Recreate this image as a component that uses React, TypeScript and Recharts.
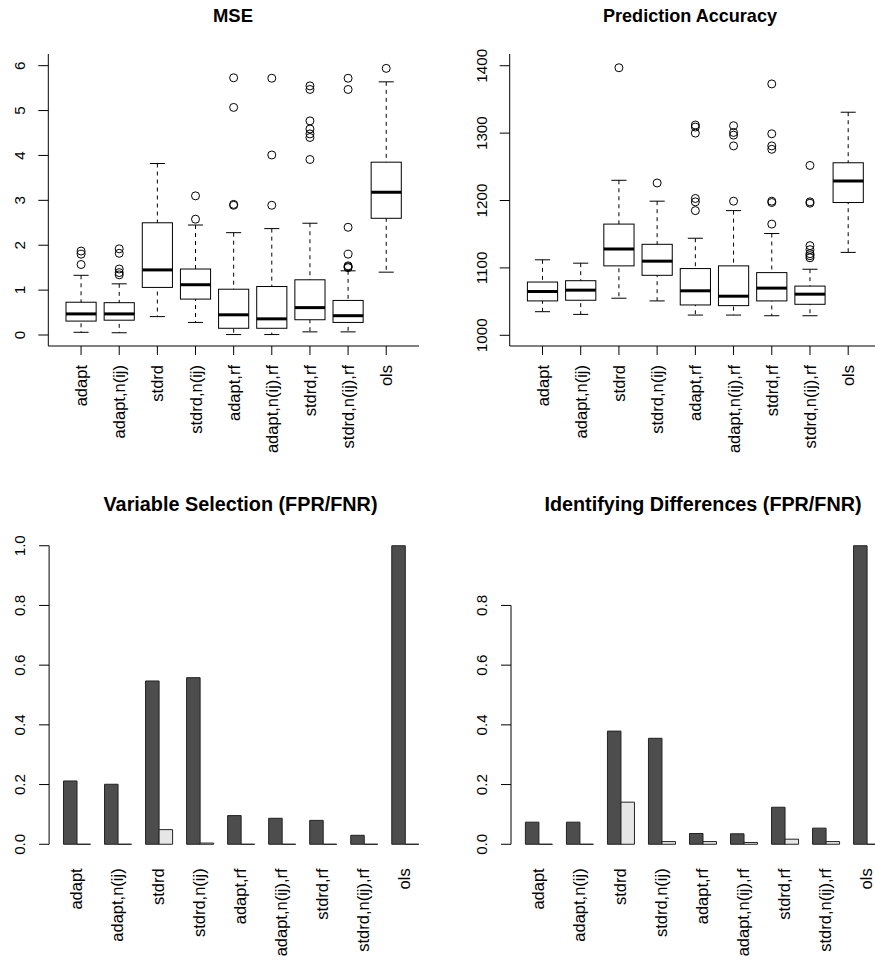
import React from 'react';
import { ComposedChart, Bar, Scatter, XAxis, YAxis, ReferenceLine } from 'recharts';

const FONT = '"Liberation Sans", Arial, Helvetica, sans-serif';

// ---------- data ----------
const categories = ['adapt', 'adapt,n(ij)', 'stdrd', 'stdrd,n(ij)', 'adapt,rf', 'adapt,n(ij),rf', 'stdrd,rf', 'stdrd,n(ij),rf', 'ols'];

// MSE boxplot stats
const mseLower = [0.06, 0.05, 0.41, 0.28, 0.01, 0.01, 0.07, 0.07, 1.40];
const mseQ1 = [0.31, 0.33, 1.06, 0.80, 0.15, 0.15, 0.34, 0.28, 2.60];
const mseMedian = [0.47, 0.47, 1.45, 1.12, 0.45, 0.36, 0.61, 0.43, 3.18];
const mseQ3 = [0.73, 0.72, 2.50, 1.47, 1.02, 1.08, 1.23, 0.77, 3.85];
const mseUpper = [1.33, 1.14, 3.82, 2.45, 2.28, 2.37, 2.49, 1.43, 5.64];
const mseOutliers = [
  [1.57, 1.80, 1.87],
  [1.34, 1.39, 1.47, 1.82, 1.92],
  [],
  [2.58, 3.10],
  [2.89, 2.91, 5.07, 5.73],
  [2.89, 4.01, 5.72],
  [3.91, 4.40, 4.48, 4.59, 4.77, 5.47, 5.55],
  [1.50, 1.52, 1.54, 1.80, 2.40, 5.47, 5.72],
  [5.94],
];
const mseTicks = [0, 1, 2, 3, 4, 5, 6];
const mseDomain = [-0.245, 6.26];

// Prediction accuracy boxplot stats
const paLower = [1035, 1031, 1055, 1051, 1030, 1030, 1029, 1029, 1123];
const paQ1 = [1051, 1052, 1103, 1089, 1045, 1044, 1051, 1046, 1197];
const paMedian = [1065, 1067, 1128, 1110, 1066, 1058, 1070, 1061, 1229];
const paQ3 = [1079, 1081, 1165, 1135, 1099, 1103, 1093, 1073, 1256];
const paUpper = [1112, 1107, 1230, 1199, 1144, 1185, 1151, 1098, 1331];
const paOutliers = [
  [],
  [],
  [1397],
  [1226],
  [1185, 1198, 1203, 1300, 1309, 1312],
  [1199, 1281, 1297, 1301, 1311],
  [1165, 1197, 1199, 1276, 1281, 1299, 1373],
  [1115, 1118, 1121, 1127, 1133, 1196, 1198, 1252],
  [],
];
const paTicks = [1000, 1100, 1200, 1300, 1400];
const paDomain = [984.1, 1417.4];

// Variable selection (FPR / FNR)
const vsFPR = [0.212, 0.201, 0.547, 0.558, 0.096, 0.087, 0.080, 0.030, 1.0];
const vsFNR = [0, 0, 0.049, 0.004, 0, 0, 0, 0, 0];
const vsTicks = [0, 0.2, 0.4, 0.6, 0.8, 1.0];

// Identifying differences (FPR / FNR)
const idFPR = [0.074, 0.074, 0.379, 0.355, 0.036, 0.035, 0.124, 0.054, 1.0];
const idFNR = [0, 0, 0.141, 0.009, 0.009, 0.006, 0.017, 0.009, 0];
const idTicks = [0, 0.2, 0.4, 0.6, 0.8];

const barDomain = [-0.04, 1.04];

// ---------- builders ----------
const boxRows = (lo: number[], q1: number[], med: number[], q3: number[], hi: number[]) =>
  categories.map((name, i) => ({ name, whisker: [lo[i], hi[i]], box: [q1[i], q3[i]], med: med[i] }));
const outlierRows = (outs: number[][]) =>
  outs.flatMap((vals, i) => vals.map((v) => ({ name: categories[i], out: v })));
const barRows = (fpr: number[], fnr: number[]) => categories.map((name, i) => ({ name, fpr: fpr[i], fnr: fnr[i] }));

// ---------- shapes / ticks ----------
const XTick = (shift: number) => (p: any) => (
  <text
    x={p.x}
    y={p.y}
    dy={shift}
    transform={`rotate(-90 ${p.x} ${p.y})`}
    textAnchor="end"
    fontFamily={FONT}
    fontSize={16.5}
    fill="#000"
  >
    {p.payload.value}
  </text>
);

const YTick = (fmt: (v: number) => string) => (p: any) => (
  <text
    x={p.x}
    y={p.y}
    transform={`rotate(-90 ${p.x} ${p.y})`}
    textAnchor="middle"
    fontFamily={FONT}
    fontSize={15.2}
    fill="#000"
  >
    {fmt(p.payload.value)}
  </text>
);

const WhiskerShape = (p: any) => {
  const cx = p.x + p.width / 2;
  const top = Math.min(p.y, p.y + p.height);
  const bot = Math.max(p.y, p.y + p.height);
  const cap = p.width / 4;
  return (
    <g>
      <line x1={cx} x2={cx} y1={top} y2={bot} stroke="#000" strokeWidth={1} strokeDasharray="4 4" />
      <line x1={cx - cap} x2={cx + cap} y1={top} y2={top} stroke="#000" strokeWidth={1} />
      <line x1={cx - cap} x2={cx + cap} y1={bot} y2={bot} stroke="#000" strokeWidth={1} />
    </g>
  );
};

const BoxShape = (p: any) => {
  const top = Math.min(p.y, p.y + p.height);
  const h = Math.abs(p.height);
  return <rect x={p.x} y={top} width={p.width} height={h} fill="#fff" stroke="#000" strokeWidth={1} />;
};

const MedianShape = (w: number) => (p: any) => (
  <line x1={p.cx - w / 2} x2={p.cx + w / 2} y1={p.cy} y2={p.cy} stroke="#000" strokeWidth={3} />
);

const OutlierShape = (p: any) => <circle cx={p.cx} cy={p.cy} r={4} fill="none" stroke="#000" strokeWidth={1} />;

const BarShape = (p: any) => {
  const top = Math.min(p.y, p.y + p.height);
  const h = Math.abs(p.height);
  return (
    <path
      d={`M${p.x},${top}h${p.width}v${h}h${-p.width}Z`}
      fill={p.fill}
      stroke="#222"
      strokeWidth={1}
    />
  );
};

// ---------- panels ----------
type BoxPanelProps = {
  left: number; top: number; width: number; height: number;
  yW: number; mTop: number; mRight: number; xH: number; yTickMargin: number;
  domain: number[]; ticks: number[]; rows: any[]; outliers: any[]; fmt: (v: number) => string;
};

function BoxPanel(props: BoxPanelProps) {
  const { left, top, width, height, yW, mTop, mRight, xH, yTickMargin, domain, ticks, rows, outliers, fmt } = props;
  const pad = 13.7;
  const plotW = width - yW - mRight;
  const band = (plotW - 2 * pad) / categories.length;
  const boxSize = band - 8;
  return (
    <div style={{ position: 'absolute', left, top }}>
      <ComposedChart
        width={width}
        height={height}
        data={rows}
        margin={{ top: mTop, right: mRight, bottom: 0, left: 0 }}
        barGap={-boxSize}
      >
        <XAxis
          dataKey="name"
          type="category"
          allowDuplicatedCategory={false}
          padding={{ left: pad, right: pad }}
          interval={0}
          height={xH}
          tickSize={9}
          tickMargin={10}
          axisLine={{ stroke: '#000' }}
          tickLine={{ stroke: '#000' }}
          tick={XTick(6)}
        />
        <XAxis xAxisId="top" orientation="top" type="number" domain={[0, 1]} height={0} tick={false} tickLine={false} axisLine={{ stroke: '#000' }} />
        <YAxis
          type="number"
          domain={domain}
          allowDataOverflow
          ticks={ticks}
          interval={0}
          width={yW}
          tickSize={10}
          tickMargin={yTickMargin}
          axisLine={{ stroke: '#000' }}
          tickLine={{ stroke: '#000' }}
          tick={YTick(fmt)}
        />
        <YAxis yAxisId="right" orientation="right" type="number" domain={[0, 1]} width={0} tick={false} tickLine={false} axisLine={{ stroke: '#000' }} />
        <Bar dataKey="whisker" barSize={boxSize} shape={WhiskerShape} isAnimationActive={false} />
        <Bar dataKey="box" barSize={boxSize} shape={BoxShape} isAnimationActive={false} />
        <Scatter dataKey="med" shape={MedianShape(boxSize)} isAnimationActive={false} />
        <Scatter data={outliers} dataKey="out" shape={OutlierShape} isAnimationActive={false} />
      </ComposedChart>
    </div>
  );
}

type BarPanelProps = {
  left: number; top: number; width: number; height: number;
  yW: number; mTop: number; mRight: number; xH: number; yTickMargin: number;
  ticks: number[]; rows: any[];
};

function BarPanel(props: BarPanelProps) {
  const { left, top, width, height, yW, mTop, mRight, xH, yTickMargin, ticks, rows } = props;
  const pad = 7.4;
  const plotW = width - yW - mRight;
  const band = (plotW - 2 * pad) / categories.length;
  const barSize = (band - 14) / 2;
  const axisTop = ticks[ticks.length - 1];
  return (
    <div style={{ position: 'absolute', left, top }}>
      <ComposedChart
        width={width}
        height={height}
        data={rows}
        margin={{ top: mTop, right: mRight, bottom: 0, left: 0 }}
        barGap={0}
      >
        <XAxis
          dataKey="name"
          type="category"
          padding={{ left: pad, right: pad }}
          interval={0}
          height={xH}
          tickSize={0}
          tickMargin={12.1}
          axisLine={false}
          tickLine={false}
          tick={XTick(5)}
        />
        <XAxis xAxisId="frame" type="number" domain={[0, 1]} allowDataOverflow hide />
        <YAxis
          type="number"
          domain={barDomain}
          allowDataOverflow
          ticks={ticks}
          interval={0}
          width={yW}
          tickSize={10}
          tickMargin={yTickMargin}
          axisLine={false}
          tickLine={{ stroke: '#000' }}
          tick={YTick((v) => v.toFixed(1))}
        />
        <Bar dataKey="fpr" barSize={barSize} fill="#4d4d4d" shape={BarShape} isAnimationActive={false} />
        <Bar dataKey="fnr" barSize={barSize} fill="#e6e6e6" shape={BarShape} isAnimationActive={false} />
        <ReferenceLine
          xAxisId="frame"
          segment={[{ x: 0, y: 0 }, { x: 0, y: axisTop }]}
          stroke="#000"
          strokeWidth={1}
          ifOverflow="visible"
        />
      </ComposedChart>
    </div>
  );
}

const titleStyle = { fontFamily: FONT, fontWeight: 700 as const, fill: '#000' };

export default function App() {
  return (
    <div style={{ position: 'absolute', left: 0, top: 0, width: 875, height: 962, overflow: 'hidden', background: '#fff' }}>
      <BoxPanel
        left={0} top={0} width={437} height={480}
        yW={48.3} mTop={54} mRight={18} xH={134} yTickMargin={13.3}
        domain={mseDomain} ticks={mseTicks}
        rows={boxRows(mseLower, mseQ1, mseMedian, mseQ3, mseUpper)}
        outliers={outlierRows(mseOutliers)}
        fmt={(v) => String(v)}
      />
      <BoxPanel
        left={440} top={0} width={441} height={480}
        yW={69.7} mTop={54} mRight={0} xH={134} yTickMargin={13}
        domain={paDomain} ticks={paTicks}
        rows={boxRows(paLower, paQ1, paMedian, paQ3, paUpper)}
        outliers={outlierRows(paOutliers)}
        fmt={(v) => String(v)}
      />
      <BarPanel
        left={0} top={480} width={440} height={482}
        yW={49.1} mTop={53.8} mRight={6.8} xH={105.8} yTickMargin={14.1}
        ticks={vsTicks} rows={barRows(vsFPR, vsFNR)}
      />
      <BarPanel
        left={440} top={480} width={455} height={482}
        yW={71} mTop={53.8} mRight={0} xH={105.8} yTickMargin={14.3}
        ticks={idTicks} rows={barRows(idFPR, idFNR)}
      />
      <svg width={875} height={962} style={{ position: 'absolute', left: 0, top: 0, pointerEvents: 'none' }}>
        <text x={233} y={21.7} textAnchor="middle" fontSize={19} textLength={40} lengthAdjust="spacingAndGlyphs" {...titleStyle}>MSE</text>
        <text x={690} y={22} textAnchor="middle" fontSize={19} textLength={174} lengthAdjust="spacingAndGlyphs" {...titleStyle}>Prediction Accuracy</text>
        <text x={240.5} y={511} textAnchor="middle" fontSize={19.5} textLength={274} lengthAdjust="spacingAndGlyphs" {...titleStyle}>Variable Selection (FPR/FNR)</text>
        <text x={703} y={511} textAnchor="middle" fontSize={19.5} textLength={317} lengthAdjust="spacingAndGlyphs" {...titleStyle}>Identifying Differences (FPR/FNR)</text>
      </svg>
    </div>
  );
}
